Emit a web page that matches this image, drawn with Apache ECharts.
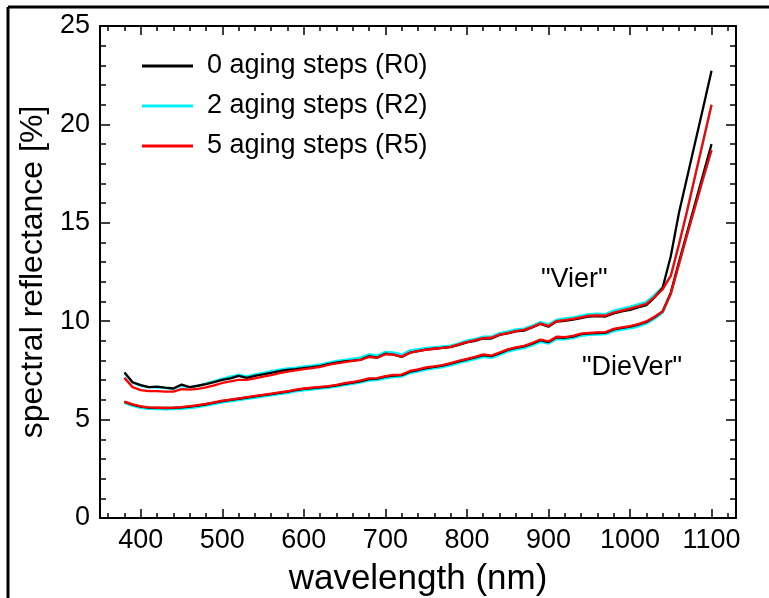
<!DOCTYPE html>
<html>
<head>
<meta charset="utf-8">
<script src="https://cdn.jsdelivr.net/npm/echarts@6/dist/echarts.min.js"></script>
<style>
  html, body { margin: 0; padding: 0; background: #fff; }
  #chart { width: 769px; height: 598px; }
</style>
</head>
<body>
<div id="chart"></div>
<script>
var wavelength = [380,390,400,410,420,430,440,450,460,470,480,490,500,510,520,530,540,550,560,570,580,590,600,610,620,630,640,650,660,670,680,690,700,710,720,730,740,750,760,770,780,790,800,810,820,830,840,850,860,870,880,890,900,910,920,930,940,950,960,970,980,990,1000,1010,1020,1030,1040,1050,1060,1070,1080,1090,1100];

// "Vier" samples
var vierR0 = [7.40,6.90,6.75,6.65,6.68,6.62,6.58,6.78,6.65,6.72,
  6.80,6.90,7.02,7.10,7.22,7.12,7.22,7.30,7.38,7.46,
  7.52,7.56,7.62,7.66,7.72,7.82,7.90,7.96,8.00,8.05,
  8.22,8.15,8.35,8.30,8.18,8.40,8.48,8.56,8.60,8.64,
  8.68,8.80,8.92,9.00,9.12,9.12,9.30,9.38,9.48,9.52,
  9.68,9.86,9.72,9.98,10.02,10.08,10.16,10.24,10.26,10.24,
  10.40,10.50,10.58,10.70,10.82,11.20,11.70,13.30,15.50,17.30,
  19.10,20.90,22.73];
var vierR2 = [7.36,6.86,6.72,6.64,6.64,6.60,6.56,6.72,6.64,6.72,
  6.84,6.96,7.08,7.18,7.28,7.20,7.30,7.38,7.46,7.54,
  7.60,7.64,7.70,7.74,7.80,7.90,7.98,8.04,8.10,8.16,
  8.32,8.26,8.44,8.42,8.30,8.52,8.58,8.64,8.68,8.72,
  8.76,8.88,9.02,9.10,9.22,9.22,9.40,9.48,9.58,9.62,
  9.78,9.96,9.84,10.08,10.14,10.20,10.28,10.36,10.38,10.36,
  10.54,10.64,10.74,10.86,10.98,11.34,11.72,12.30,13.90,15.60,
  17.40,19.20,21.00];
var vierR5 = [7.12,6.65,6.50,6.45,6.45,6.42,6.42,6.55,6.52,6.56,
  6.64,6.74,6.86,6.94,7.02,7.02,7.10,7.18,7.26,7.36,
  7.44,7.50,7.56,7.62,7.68,7.78,7.86,7.92,7.98,8.04,
  8.18,8.14,8.32,8.30,8.20,8.40,8.48,8.56,8.60,8.64,
  8.70,8.82,8.94,9.04,9.14,9.16,9.32,9.40,9.50,9.56,
  9.70,9.88,9.76,10.00,10.06,10.12,10.20,10.28,10.30,10.28,
  10.44,10.54,10.64,10.76,10.88,11.22,11.62,12.30,13.90,15.60,
  17.40,19.20,21.00];

// "DieVer" samples
var dieVerR0 = [5.90,5.76,5.66,5.61,5.60,5.59,5.60,5.62,5.66,5.71,
  5.78,5.86,5.94,6.00,6.06,6.12,6.18,6.24,6.30,6.36,
  6.42,6.50,6.56,6.60,6.64,6.68,6.74,6.82,6.88,6.96,
  7.06,7.08,7.18,7.24,7.26,7.44,7.52,7.62,7.68,7.74,
  7.84,7.96,8.06,8.16,8.28,8.22,8.38,8.54,8.64,8.72,
  8.86,9.04,8.94,9.18,9.16,9.22,9.34,9.38,9.40,9.42,
  9.58,9.66,9.72,9.82,9.96,10.20,10.50,11.45,13.00,14.50,
  16.00,17.50,19.00];
var dieVerR2 = [5.86,5.70,5.60,5.55,5.53,5.52,5.53,5.55,5.59,5.64,
  5.71,5.79,5.87,5.93,5.99,6.05,6.11,6.17,6.23,6.29,
  6.35,6.43,6.49,6.53,6.57,6.61,6.67,6.75,6.81,6.89,
  6.98,7.01,7.10,7.16,7.19,7.36,7.44,7.54,7.60,7.66,
  7.76,7.88,7.97,8.07,8.19,8.14,8.29,8.45,8.55,8.63,
  8.77,8.95,8.86,9.09,9.08,9.14,9.25,9.30,9.32,9.34,
  9.49,9.57,9.63,9.73,9.87,10.12,10.42,11.36,12.86,14.36,
  15.82,17.26,18.66];
var dieVerR5 = [5.91,5.77,5.67,5.62,5.61,5.60,5.61,5.63,5.68,5.73,
  5.80,5.88,5.96,6.02,6.08,6.14,6.20,6.26,6.32,6.38,
  6.44,6.52,6.58,6.62,6.66,6.70,6.77,6.85,6.91,6.99,
  7.09,7.11,7.21,7.27,7.29,7.47,7.55,7.65,7.71,7.77,
  7.87,7.99,8.09,8.19,8.31,8.25,8.41,8.57,8.67,8.75,
  8.89,9.07,8.97,9.21,9.19,9.25,9.37,9.41,9.43,9.45,
  9.61,9.69,9.75,9.85,9.99,10.22,10.50,11.40,12.90,14.40,
  15.85,17.30,18.70];

var legendNames = ['0 aging steps (R0)', '2 aging steps (R2)', '5 aging steps (R5)'];
var xMajorTicks = [400,500,600,700,800,900,1000,1100];
var xMinorTicks = [360,380,420,440,460,480,520,540,560,580,620,640,660,680,720,740,760,780,
  820,840,860,880,920,940,960,980,1020,1040,1060,1080,1120];

var FONT = '"Liberation Sans", Arial, sans-serif';

function pairs(ys) {
  return wavelength.map(function (x, i) { return [x, ys[i]]; });
}

function line(name, color, ys) {
  return {
    type: 'line',
    name: name,
    data: pairs(ys),
    showSymbol: false,
    color: color,
    lineStyle: { width: 2.3, color: color },
    xAxisIndex: 0,
    yAxisIndex: 0
  };
}

function xAxisDef(pos, ticks, len, labels) {
  return {
    type: 'value',
    position: pos,
    min: 350,
    max: 1130,
    splitLine: { show: false },
    axisLine: { show: true, onZero: false, lineStyle: { color: '#000', width: 2 } },
    axisTick: { show: true, inside: true, length: len, customValues: ticks,
      lineStyle: { color: '#000', width: 1.5 } },
    axisLabel: {
      show: labels,
      customValues: ticks,
      formatter: function (v) { return String(v); },
      fontSize: 27,
      fontFamily: FONT,
      color: '#000',
      margin: 9
    },
    name: labels && pos === 'bottom' ? 'wavelength (nm)' : '',
    nameLocation: 'middle',
    nameGap: 44,
    nameTextStyle: { fontSize: 35, fontFamily: FONT, color: '#000' }
  };
}

function yAxisDef(pos, labels) {
  return {
    type: 'value',
    position: pos,
    min: 0,
    max: 25,
    interval: 5,
    splitLine: { show: false },
    axisLine: { show: true, onZero: false, lineStyle: { color: '#000', width: 2 } },
    axisTick: { show: true, inside: true, length: 10, lineStyle: { color: '#000', width: 1.5 } },
    minorTick: { show: true, splitNumber: 5, length: 6, lineStyle: { color: '#000', width: 1.5 } },
    axisLabel: { show: labels, fontSize: 27, fontFamily: FONT, color: '#000', margin: 10 },
    name: labels ? 'spectral reflectance [%]' : '',
    nameLocation: 'middle',
    nameGap: 45,
    nameTextStyle: { fontSize: 32, fontFamily: FONT, color: '#000' }
  };
}

var chart = echarts.init(document.getElementById('chart'), null, { renderer: 'canvas' });

var option = {
  animation: false,
  backgroundColor: '#fff',
  grid: { left: 100, right: 33, top: 26, bottom: 80, outerBoundsMode: 'none' },
  xAxis: [
    xAxisDef('bottom', xMajorTicks, 9, true),
    xAxisDef('bottom', xMinorTicks, 5, false),
    xAxisDef('top', xMajorTicks, 9, false),
    xAxisDef('top', xMinorTicks, 5, false)
  ],
  yAxis: [yAxisDef('left', true), yAxisDef('right', false)],
  legend: {
    data: legendNames,
    orient: 'vertical',
    left: 137,
    top: 46,
    itemWidth: 51,
    itemHeight: 3,
    itemGap: 10,
    icon: 'rect',
    textStyle: { fontSize: 27, fontFamily: FONT, color: '#000', lineHeight: 30, padding: [0, 0, 0, 9] }
  },
  series: [
    line(legendNames[1], '#00f0f8', vierR2),
    line(legendNames[0], '#000000', vierR0),
    line(legendNames[2], '#ff0000', vierR5),
    line(legendNames[1], '#00f0f8', dieVerR2),
    line(legendNames[0], '#000000', dieVerR0),
    line(legendNames[2], '#ff0000', dieVerR5)
  ],
  graphic: [
    { type: 'line', shape: { x1: 8, y1: 7, x2: 769, y2: 7 }, style: { stroke: '#000', lineWidth: 3 } },
    { type: 'line', shape: { x1: 8, y1: 7, x2: 8, y2: 598 }, style: { stroke: '#000', lineWidth: 3 } },
    { type: 'text', left: 541, top: 266, style: { text: '"Vier"', font: '27px ' + FONT, fill: '#000' } },
    { type: 'text', left: 582, top: 354, style: { text: '"DieVer"', font: '27px ' + FONT, fill: '#000' } }
  ]
};

chart.setOption(option);
</script>
</body>
</html>
